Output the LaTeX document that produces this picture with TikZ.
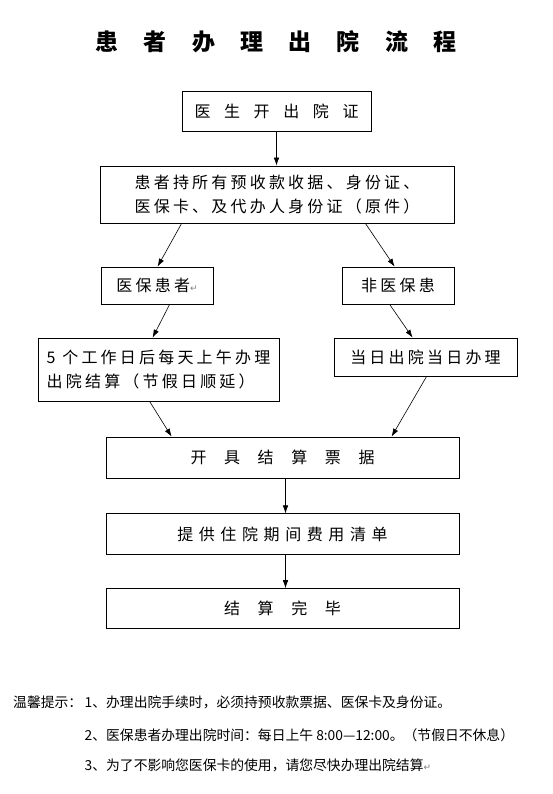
\documentclass[tikz,border=0pt]{standalone}
\usepackage{fontspec}
\usepackage{xcolor}
\usepackage{tikz}
\usetikzlibrary{arrows.meta, positioning, calc}
\newfontfamily\cjk{Noto Sans CJK SC}
\newfontfamily\dejavu{DejaVu Sans}
\newcommand{\wgap}{\hspace{1.1em}}
\newcommand{\ngap}{\hspace{0.85em}}
\newcommand{\tgap}{\hspace{1.1em}}
\newcommand{\retmark}{{\dejavu\color{gray}\fontsize{9}{9}\selectfont ↵}}
\tikzset{
  titletext/.style={
    font=\cjk\bfseries\fontsize{23}{27}\selectfont
  },
  stepbox/.style={
    rectangle,
    draw=black,
    line width=0.8pt,
    inner sep=0pt,
    text centered,
    font=\cjk\fontsize{16}{24}\selectfont\addfontfeature{LetterSpace=20}
  },
  widebox/.style={
    stepbox,
    font=\cjk\fontsize{16}{24}\selectfont
  },
  note/.style={
    inner sep=0pt,
    anchor=west,
    font=\cjk\fontsize{13.8}{16}\selectfont
  },
  arrow/.style={
    line width=0.6pt,
    -{Latex[length=8pt, width=5.5pt]}
  }
}
\begin{document}
\begin{tikzpicture}[x=1pt, y=-1pt]
  \useasboundingbox (0,0) rectangle (553,794);

  % --- title ---
  \node (title) [titletext] at (276,42) {患\tgap 者\tgap 办\tgap 理\tgap 出\tgap 院\tgap 流\tgap 程};

  % --- flow ---
  \node (b1) [widebox, minimum width=189pt, minimum height=40pt] at (276.5,111) {医\ngap 生\ngap 开\ngap 出\ngap 院\ngap 证};
  \node (b2) [stepbox, minimum width=354pt, minimum height=57pt, align=center] at (277,194.5) {患者持所有预收款收据、身份证、\\医保卡、及代办人身份证（原件）};
  \node (b3) [stepbox, minimum width=112pt, minimum height=37pt] at (157,285.5) {医保患者\retmark};
  \node (b4) [stepbox, minimum width=112pt, minimum height=37pt] at (398,285.5) {非医保患};
  \node (b5) [stepbox, minimum width=241pt, minimum height=63pt, align=left] at (158.5,369.5) {5 个工作日后每天上午办理\\出院结算（节假日顺延）};
  \node (b6) [stepbox, minimum width=183pt, minimum height=38pt] at (425.5,357) {当日出院当日办理};
  \node (b7) [widebox, minimum width=353pt, minimum height=41pt] at (282.5,457.5) {开\wgap 具\wgap 结\wgap 算\wgap 票\wgap 据};
  \node (b8) [stepbox, minimum width=353pt, minimum height=41pt, below=35pt of b7,
    font=\cjk\fontsize{16}{24}\selectfont\addfontfeature{LetterSpace=35}] {提供住院期间费用清单};
  \node (b9) [widebox, minimum width=353pt, minimum height=40pt, below=33pt of b8] {结\wgap 算\wgap 完\wgap 毕};

  \draw[arrow] (b1.south) -- (b1.south |- b2.north);
  \draw[arrow] ([xshift=82pt]b2.south west) -- ([xshift=57pt]b3.north west);
  \draw[arrow] ([xshift=-89pt]b2.south east) -- ([xshift=53pt]b4.north west);
  \draw[arrow] ([xshift=69pt]b3.south west) -- ([xshift=115pt]b5.north west);
  \draw[arrow] ([xshift=48pt]b4.south west) -- ([xshift=79pt]b6.north west);
  \draw[arrow] ([xshift=112pt]b5.south west) -- ([xshift=66pt]b7.north west);
  \draw[arrow] ([xshift=93pt]b6.south west) -- ([xshift=286pt]b7.north west);
  \draw[arrow] ([xshift=3pt]b7.south) -- ([xshift=3pt]b8.north);
  \draw[arrow] ([xshift=3pt]b8.south) -- ([xshift=3pt]b9.north);

  % --- notes ---
  \node (tip) [note] at (13,702) {温馨提示：};
  \node (n1) [note] at (84.5,702) {1、办理出院手续时，必须持预收款票据、医保卡及身份证。};
  \node (n2) [note] at (84.5,735) {2、医保患者办理出院时间：每日上午 8:00—12:00。（节假日不休息）};
  \node (n3) [note] at (84.5,765) {3、为了不影响您医保卡的使用，请您尽快办理出院结算\retmark};

\end{tikzpicture}
\end{document}
